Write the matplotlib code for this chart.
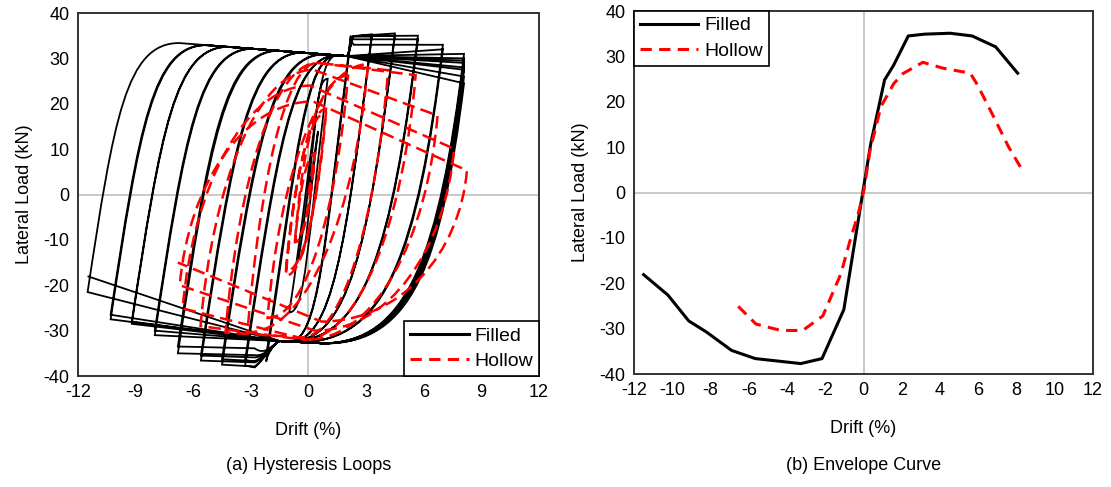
import numpy as np
import matplotlib
matplotlib.use("Agg")
import matplotlib.pyplot as plt
from matplotlib.path import Path
from matplotlib.patches import PathPatch
from matplotlib.lines import Line2D

plt.rcParams["font.family"] = ["Liberation Sans", "DejaVu Sans"]
plt.rcParams["axes.unicode_minus"] = False

# ---- hysteresis peaks, in loading order (drift %, load kN) ----
filled_pos_drift = [0.5, 1.0, 2.2, 2.2, 3.3, 3.3, 4.5, 4.5, 5.7, 5.7, 7.0, 7.0,
                    8.1, 8.1, 8.1, 8.1, 8.1, 8.1, 8.1, 8.1]
filled_pos_load = [14, 25.5, 35, 34, 35.3, 34.8, 35.5, 35, 35, 34.2, 33, 32,
                   31, 30, 29.5, 29, 28, 27.5, 26, 24.5]
filled_neg_drift = [-0.5, -1.0, -2.2, -2.2, -3.3, -3.3, -4.5, -4.5, -5.6, -5.6, -6.8, -6.8,
                    -8.0, -8.0, -9.2, -9.2, -10.3, -10.3, -11.5, -11.5]
filled_neg_load = [-14, -26, -36.8, -35.5, -37.7, -36.5, -37.5, -36.3, -36.6, -35.5, -35, -33.5,
                   -31, -30, -28.5, -28, -27.5, -26.5, -21.5, -18]

hollow_pos_drift = [0.34, 0.34, 0.91, 0.91, 2.06, 3.1, 4.15, 5.58, 6.72, 7.58, 8.25]
hollow_pos_load = [9.3, 9.0, 18.9, 18.0, 26.2, 28.7, 27.4, 26.3, 17.4, 10.1, 5.3]
hollow_top_load = [9.3, 9.0, 18.9, 18.0, 26.2, 28.7, 29.0, 29.0, 27.5, 24.0, 20.5]
hollow_neg_drift = [-0.7, -0.7, -1.18, -1.18, -2.13, -3.18, -4.32, -5.62, -6.55, -6.7, -6.8]
hollow_neg_load = [-10.5, -10.0, -17.9, -17.0, -27.2, -30.4, -30.4, -29.0, -25.1, -20.0, -15.0]
hollow_bot_load = [-10.5, -10.0, -17.9, -17.0, -27.2, -30.4, -31.5, -32.0, -32.0, -30.0, -28.0]

# common plateau lines of the filled loops
top_line_drift = [-8.0, 2.0]
top_line_load = [33.8, 30.5]
bot_line_drift = [-1.5, 3.0]
bot_line_load = [-32.3, -33.3]

# ---- envelope curves ----
env_filled_drift = [-11.5, -10.23, -9.14, -8.23, -6.9, -5.66, -3.28, -2.17, -1.03, -0.04,
                    0.38, 1.1, 1.58, 2.34, 3.2, 4.53, 5.68, 6.91, 8.06]
env_filled_load = [-18.1, -22.6, -28.3, -30.7, -34.8, -36.6, -37.7, -36.6, -25.8, 0.0,
                   10.8, 24.8, 28.1, 34.5, 34.9, 35.1, 34.5, 32.1, 26.3]
env_hollow_drift = [-6.55, -5.62, -4.32, -3.18, -2.13, -1.18, -0.7, -0.27, 0.02, 0.34, 0.91,
                    1.58, 2.06, 3.1, 4.15, 5.58, 5.96, 6.72, 7.58, 8.25]
env_hollow_load = [-25.1, -29.0, -30.4, -30.4, -27.2, -17.9, -10.5, -4.6, 0.5, 9.3, 18.9,
                   24.0, 26.2, 28.7, 27.4, 26.3, 23.7, 17.4, 10.1, 5.3]


def curve(verts, codes, a, x_cross, b, k1, k2):
    # cubic segment leaving a along its elastic slope and arriving flat at b
    y1 = a[1] + k1 * (b[1] - a[1])
    c1 = (a[0] + (x_cross - a[0]) * (y1 - a[1]) / (0 - a[1]), y1)
    c2 = (x_cross + k2 * (b[0] - x_cross), b[1])
    verts += [c1, c2, b]
    codes += [Path.CURVE4] * 3


def line(verts, codes, p):
    verts.append(p)
    codes.append(Path.LINETO)


def filled_path():
    verts, codes = [(0, 0)], [Path.MOVETO]
    n = len(filled_pos_drift)
    for i in range(n):
        dp, fp = filled_pos_drift[i], filled_pos_load[i]
        dn, fn = filled_neg_drift[i], filled_neg_load[i]
        # loading toward the positive peak
        if i == 0:
            line(verts, codes, (dp, fp))
        else:
            pdn, pfn = filled_neg_drift[i - 1], filled_neg_load[i - 1]
            x0 = pdn + abs(pfn) / 28.0
            if dp < 1.5:
                curve(verts, codes, (pdn, pfn), x0, (dp, fp), 0.7, 0.31)
            else:
                xk = min(x0 + 4.0, 1.5)
                ft = np.interp(xk, top_line_drift, top_line_load)
                curve(verts, codes, (pdn, pfn), x0, (xk, ft), 0.7, 0.31)
                line(verts, codes, (2.0, 30.5))
                if fp > 32:
                    hx = min(2.35, dp)
                    verts += [(2.15, 30.8), (2.2, 34.6), (hx, min(34.9, fp))]
                    codes += [Path.CURVE4] * 3
                line(verts, codes, (dp, fp))
        # unloading toward the negative peak
        x1 = dp - fp / 34.0
        if dn > -1.5:
            curve(verts, codes, (dp, fp), x1, (dn, fn), 0.7, 0.31)
        else:
            xk2 = max(x1 - 6.5, -1.0)
            fb = np.interp(xk2, bot_line_drift, bot_line_load)
            curve(verts, codes, (dp, fp), x1, (xk2, fb), 0.7, 0.31)
            line(verts, codes, (-1.5, -32.3))
            if fn < -33:
                hx = max(-2.8, dn)
                verts += [(-1.8, -32.6), (-2.2, -35.8), (hx, fn - 0.4 if dn < -2.8 else fn)]
                codes += [Path.CURVE4] * 3
            line(verts, codes, (dn, fn))
    return Path(verts, codes)


def hollow_path():
    verts, codes = [(0, 0)], [Path.MOVETO]
    n = len(hollow_pos_drift)
    for i in range(n):
        dp, fp, ft = hollow_pos_drift[i], hollow_pos_load[i], hollow_top_load[i]
        dn, fn, fb = hollow_neg_drift[i], hollow_neg_load[i], hollow_bot_load[i]
        if i == 0:
            line(verts, codes, (dp, fp))
        else:
            pdn, pfn = hollow_neg_drift[i - 1], hollow_neg_load[i - 1]
            x0 = pdn + abs(pfn) / 50.0
            if ft <= fp + 0.5:
                curve(verts, codes, (pdn, pfn), x0, (dp, fp), 0.55, 0.45)
            else:
                xk = x0 + 0.45 * (dp - x0)
                curve(verts, codes, (pdn, pfn), x0, (xk, ft), 0.55, 0.45)
                line(verts, codes, (dp, fp))
        x1 = dp - fp / 50.0
        if fb >= fn - 0.5:
            curve(verts, codes, (dp, fp), x1, (dn, fn), 0.55, 0.45)
        else:
            xk2 = x1 - 0.5 * (x1 - dn)
            curve(verts, codes, (dp, fp), x1, (xk2, fb), 0.55, 0.45)
            line(verts, codes, (dn, fn))
    return Path(verts, codes)


fig = plt.figure(figsize=(11.11, 4.87), dpi=100)
ax1 = fig.add_axes([0.0702, 0.2279, 0.4149, 0.7454])
ax2 = fig.add_axes([0.5707, 0.2320, 0.4131, 0.7454])

dash_env = (0, (3.7, 2.4))

for ax in (ax1, ax2):
    ax.set_xlim(-12, 12)
    ax.set_ylim(-40, 40)
    ax.axhline(0, color="#c0c0c0", lw=1.2, zorder=0)
    ax.axvline(0, color="#c0c0c0", lw=1.2, zorder=0)
    ax.set_yticks(np.arange(-40, 41, 10))
    ax.tick_params(length=0, labelsize=13, pad=6)
    for s in ax.spines.values():
        s.set_color("#333333")
        s.set_linewidth(1.4)
    ax.set_ylabel("Lateral Load (kN)", fontsize=13, labelpad=8)
    ax.set_xlabel("Drift (%)", fontsize=13, labelpad=15)

ax1.set_xticks(np.arange(-12, 13, 3))
ax2.set_xticks(np.arange(-12, 13, 2))

# (a) hysteresis loops
ax1.add_patch(PathPatch(filled_path(), fill=False, edgecolor="black", lw=1.3, zorder=2))
ax1.add_patch(PathPatch(hollow_path(), fill=False, edgecolor="red", lw=1.8,
                        linestyle=(0, (5, 2.5)), zorder=3))
handles = [Line2D([], [], color="black", lw=2.2),
           Line2D([], [], color="red", lw=2.2, linestyle=dash_env)]
leg1 = ax1.legend(handles, ["Filled", "Hollow"], loc="lower right", fontsize=14,
                  frameon=True, fancybox=False, edgecolor="black", framealpha=1,
                  borderaxespad=0, handlelength=3.0, handletextpad=0.3, labelspacing=0.4,
                  borderpad=0.3)
leg1.get_frame().set_linewidth(1.2)

# (b) envelope curves
ax2.plot(env_filled_drift, env_filled_load, color="black", lw=2.2, label="Filled", zorder=3)
ax2.plot(env_hollow_drift, env_hollow_load, color="red", lw=2.2, linestyle=dash_env,
         label="Hollow", zorder=3)
leg2 = ax2.legend(loc="upper left", fontsize=14, frameon=True, fancybox=False,
                  edgecolor="black", framealpha=1, borderaxespad=0, handlelength=3.0,
                  handletextpad=0.3, labelspacing=0.4, borderpad=0.3)
leg2.get_frame().set_linewidth(1.2)

fig.text(0.2777, 1 - 466 / 487, "(a) Hysteresis Loops", ha="center", va="center", fontsize=13)
fig.text(0.7773, 1 - 466 / 487, "(b) Envelope Curve", ha="center", va="center", fontsize=13)

fig.savefig("out.png", dpi=100)
